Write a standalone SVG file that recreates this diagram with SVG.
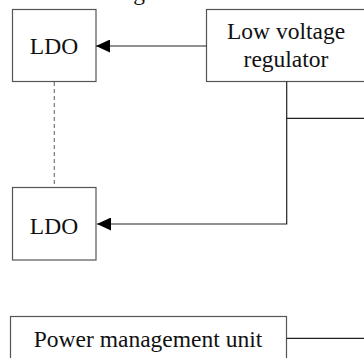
<svg xmlns="http://www.w3.org/2000/svg" width="364" height="358" viewBox="0 0 364 358">
<style>
.box{fill:#fff;stroke:#555;stroke-width:1.2}
.t{font-family:"Liberation Serif","Times New Roman",serif;font-size:23.5px;fill:#111;text-anchor:middle}
.c{fill:none;stroke:#222;stroke-width:1.2}
.d{fill:none;stroke:#777;stroke-width:1.2;stroke-dasharray:4 3}
</style>
<defs>
<marker id="ah" markerWidth="14" markerHeight="13" refX="14" refY="6.5" orient="auto" markerUnits="userSpaceOnUse">
<path d="M0,0 L14,6.5 L0,13 Z" fill="#000"/>
</marker>
</defs>
<rect width="364" height="358" fill="#fff"/>
<text class="t" x="139" y="0">g</text>
<g id="ldo1"><rect class="box" x="12.5" y="9.5" width="83.5" height="72"/><text class="t" x="54" y="53.5">LDO</text></g>
<g id="lvr"><rect class="box" x="206.5" y="9.5" width="160" height="72"/><text class="t" x="286" y="39">Low voltage</text><text class="t" x="286" y="67">regulator</text></g>
<g id="ldo2"><rect class="box" x="12.5" y="187.5" width="83.5" height="72.5"/><text class="t" x="54" y="233.5">LDO</text></g>
<g id="pmu"><rect class="box" x="10.5" y="316.5" width="276" height="60"/><text class="t" x="148" y="346.5">Power management unit</text></g>
<g id="connectors">
<line class="c" x1="206.5" y1="46" x2="96" y2="46" marker-end="url(#ah)"/>
<polyline class="c" points="286.7,81.5 286.7,224 97,224" marker-end="url(#ah)"/>
<line class="c" x1="286.7" y1="118.3" x2="364" y2="118.3"/>
<line class="c" x1="286.5" y1="338.3" x2="364" y2="338.3"/>
<line class="d" x1="54.3" y1="82" x2="54.3" y2="187"/>
</g>
</svg>
